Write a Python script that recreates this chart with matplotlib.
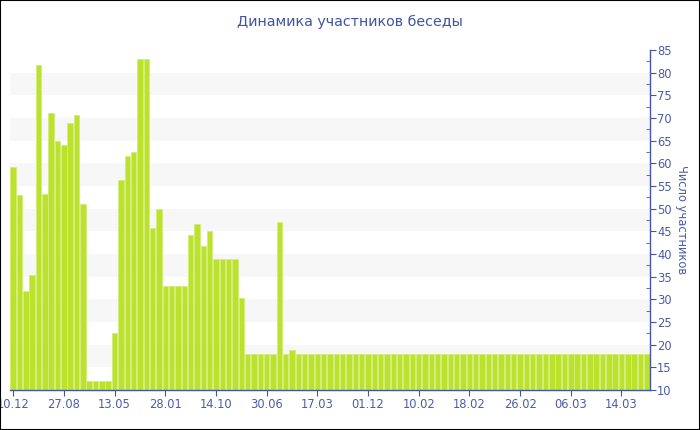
import matplotlib
matplotlib.use("Agg")
import matplotlib.pyplot as plt
from matplotlib.patches import Rectangle
from matplotlib.ticker import MultipleLocator

title = "Динамика участников беседы"
ylabel = "Число участников"

values = [59.3, 53.1, 31.9, 35.4, 81.7, 53.2, 71.0, 65.0, 64.0, 69.0,
          70.6, 51.0, 12.0, 12.0, 12.0, 12.0, 22.5, 56.4, 61.7, 62.4,
          83.0, 83.0, 45.7, 49.9, 33.0, 33.0, 33.0, 33.0, 44.3, 46.7,
          41.8, 45.0, 39.0, 39.0, 39.0, 39.0, 30.4, 18.0, 18.0, 18.0,
          18.0, 18.0, 47.0, 18.0, 18.8] + [18.0] * 56

tick_labels = ["10.12", "27.08", "13.05", "28.01", "14.10", "30.06", "17.03",
               "01.12", "10.02", "18.02", "26.02", "06.03", "14.03"]
tick_step = 8

bar_color = "#bde22e"
edge_color = "#d3ee7a"
axis_color = "#4357a3"
text_color = "#4a5da6"
band_color = "#f7f7f7"

fig = plt.figure(figsize=(7, 4.3), dpi=100)
ax = fig.add_axes([10 / 700, 40 / 430, 640 / 700, 340 / 430])

ymin, ymax = 10, 85
ax.set_ylim(ymin, ymax)
ax.set_xlim(-0.5, len(values) - 0.5)

# alternating bands
for lo in range(15, 85, 10):
    ax.axhspan(lo, lo + 5, color=band_color, zorder=0, lw=0)

x = list(range(len(values)))
ax.bar(x, [v - ymin for v in values], bottom=ymin, width=0.86,
       color=bar_color, edgecolor=edge_color, linewidth=0.6, zorder=2)

# axes styling
for s in ["top", "left"]:
    ax.spines[s].set_visible(False)
ax.spines["right"].set_color(axis_color)
ax.spines["bottom"].set_color(axis_color)
ax.spines["right"].set_linewidth(1.0)
ax.spines["bottom"].set_linewidth(1.0)

ax.yaxis.tick_right()
ax.yaxis.set_label_position("right")
ax.yaxis.set_major_locator(MultipleLocator(5))
ax.yaxis.set_minor_locator(MultipleLocator(2.5))
ax.tick_params(axis="y", which="major", direction="out", length=4,
               color=axis_color, labelcolor=text_color, labelsize=8.3, pad=1)
ax.tick_params(axis="y", which="minor", direction="in", length=3,
               color=axis_color)

ax.set_xticks(list(range(0, tick_step * len(tick_labels), tick_step)))
ax.set_xticklabels(tick_labels)
ax.tick_params(axis="x", direction="out", length=4, color=axis_color,
               labelcolor=text_color, labelsize=8.3, pad=2)

ax.set_ylabel(ylabel, rotation=270, color=text_color, fontsize=8.3,
              labelpad=12)

fig.text(350 / 700, 1 - 22 / 430, title, ha="center", va="center",
         color="#3f55a0", fontsize=10.3)

fig.patches.append(Rectangle((0, 0), 1, 1, transform=fig.transFigure,
                             fill=False, edgecolor="black", linewidth=1.5))

fig.savefig("out.png", dpi=100)
